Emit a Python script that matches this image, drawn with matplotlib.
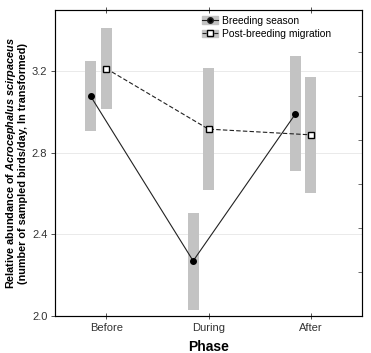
import matplotlib
matplotlib.use("Agg")
import matplotlib.pyplot as plt
from matplotlib.patches import Patch
from matplotlib.lines import Line2D

plt.rcParams['font.family'] = ['Liberation Sans', 'DejaVu Sans']
plt.rcParams['mathtext.fontset'] = 'custom'
plt.rcParams['mathtext.rm'] = 'Liberation Sans'
plt.rcParams['mathtext.it'] = 'Liberation Sans:italic'
plt.rcParams['mathtext.bf'] = 'Liberation Sans:bold'
plt.rcParams['mathtext.bfit'] = 'Liberation Sans:italic:bold'

phases = ['Before', 'During', 'After']
breed_mean = [3.076, 2.270, 2.991]
breed_low = [2.907, 2.029, 2.709]
breed_high = [3.249, 2.506, 3.274]
post_mean = [3.213, 2.916, 2.888]
post_low = [3.017, 2.618, 2.601]
post_high = [3.412, 3.216, 3.174]

fig = plt.figure(figsize=(3.71, 3.53), dpi=100)
ax = fig.add_axes([55 / 371, 1 - 316 / 353, 307 / 371, 306 / 353])

xs = list(range(len(phases)))
xb = [x - 0.15 for x in xs]
xp = xs
bw = 0.105
grey = '#c3c3c3'

ax.bar(xb, [h - l for h, l in zip(breed_high, breed_low)], bottom=breed_low,
       width=bw, color=grey, zorder=2)
ax.bar(xp, [h - l for h, l in zip(post_high, post_low)], bottom=post_low,
       width=bw, color=grey, zorder=2)
ax.plot(xb, breed_mean, '-', color='#222222', lw=0.8, marker='o', ms=4,
        mfc='black', mec='black', zorder=3)
ax.plot(xp, post_mean, '--', color='#222222', lw=0.8, marker='s', ms=5,
        mfc='white', mec='black', mew=1.0, dashes=(4, 2), zorder=3)

ax.set_xlim(-0.5, 2.5)
ax.set_ylim(2.0, 3.5)
ax.set_xticks(xs)
ax.set_xticklabels(phases)
ax.set_yticks([2.0, 2.4, 2.8, 3.2])
ax.set_yticklabels(['2.0', '2.4', '2.8', '3.2'])
ax.tick_params(labelsize=8, length=3, width=0.6, colors='#333333', top=True,
               direction='in')
ax.tick_params(axis='y', direction='out', pad=2.5)
ax.tick_params(axis='x', direction='inout', length=4, pad=3)
ax.grid(axis='y', color='#e6e6e6', lw=0.6, zorder=0)
for s in ax.spines.values():
    s.set_color('#555555')
    s.set_linewidth(0.8)

ax2 = ax.twinx()
ax2.set_ylim(0, 306 / 44)
ax2.set_yticks([1, 2, 3, 4, 5, 6])
ax2.set_yticklabels([])
ax2.tick_params(length=3, width=0.6, direction='in', colors='#555555')

ax.set_xlabel('Phase', fontsize=10, fontweight='bold', labelpad=5)
ax.set_ylabel('Relative abundance of $\\mathbfit{Acrocephalus\\ scirpaceus}$\n'
              '(number of sampled birds/day, ln transformed)',
              fontsize=7.8, fontweight='bold', linespacing=1.05)
ax.yaxis.set_label_coords(-0.088, 0.5)

h1 = (Patch(color=grey), Line2D([], [], color='#222222', lw=0.8, marker='o',
                                 ms=4, mfc='black'))
h2 = (Patch(color=grey), Line2D([], [], color='#222222', lw=0.8, ls='--',
                                 marker='s', ms=5, mfc='white', mec='black'))
ax.legend([h1, h2], ['Breeding season', 'Post-breeding migration'],
          loc='upper left', bbox_to_anchor=((198 - 55) / 307, 0.995),
          frameon=False, fontsize=7.4, handlelength=1.5, handletextpad=0.45,
          labelspacing=0.3, borderaxespad=0.0)

fig.savefig('out.png', dpi=100)
